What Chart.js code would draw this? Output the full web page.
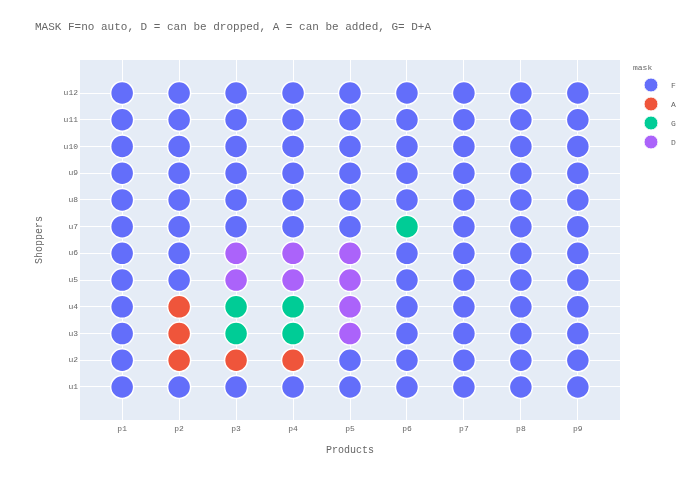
<!DOCTYPE html>
<html>
<head>
<meta charset="utf-8">
<script src="https://cdn.jsdelivr.net/npm/chart.js@4"></script>
<style>
  html, body { margin: 0; padding: 0; background: #fff; }
  #wrap { width: 700px; height: 500px; position: relative; }
</style>
</head>
<body>
<div id="wrap"><canvas id="c" width="700" height="500"></canvas></div>
<script>
const chartTitle = "MASK F=no auto, D = can be dropped, A = can be added, G= D+A";
const xTitle = "Products";
const yTitle = "Shoppers";
const legendTitle = "mask";
const products = ["p1","p2","p3","p4","p5","p6","p7","p8","p9"];
const shoppers = ["u1","u2","u3","u4","u5","u6","u7","u8","u9","u10","u11","u12"];
// mask per product, listed from u1 to u12
const maskP1 = ["F","F","F","F","F","F","F","F","F","F","F","F"];
const maskP2 = ["F","A","A","A","F","F","F","F","F","F","F","F"];
const maskP3 = ["F","A","G","G","D","D","F","F","F","F","F","F"];
const maskP4 = ["F","A","G","G","D","D","F","F","F","F","F","F"];
const maskP5 = ["F","F","D","D","D","D","F","F","F","F","F","F"];
const maskP6 = ["F","F","F","F","F","F","G","F","F","F","F","F"];
const maskP7 = ["F","F","F","F","F","F","F","F","F","F","F","F"];
const maskP8 = ["F","F","F","F","F","F","F","F","F","F","F","F"];
const maskP9 = ["F","F","F","F","F","F","F","F","F","F","F","F"];
const maskKinds = ["F","A","G","D"];
const maskColors = ["#636efa","#EF553B","#00cc96","#ab63fa"];

const masks = [maskP1,maskP2,maskP3,maskP4,maskP5,maskP6,maskP7,maskP8,maskP9];
const datasets = maskKinds.map((k, ki) => {
  const pts = [];
  masks.forEach((col, pi) => col.forEach((m, si) => { if (m === k) pts.push({x: pi, y: si}); }));
  return {
    label: k, data: pts,
    backgroundColor: maskColors[ki], borderColor: "#ffffff", borderWidth: 1.5,
    pointRadius: 11.5, pointHoverRadius: 11.5
  };
});

const FONT = "'Liberation Mono', 'DejaVu Sans Mono', monospace";
const TXT = "#666";

const decor = {
  id: "decor",
  beforeDraw(chart) {
    const {ctx, chartArea: a} = chart;
    ctx.save();
    ctx.fillStyle = "#ffffff";
    ctx.fillRect(0, 0, chart.width, chart.height);
    ctx.fillStyle = "#E5ECF6";
    ctx.fillRect(a.left, a.top, a.right - a.left, a.bottom - a.top);
    ctx.restore();
  },
  afterDraw(chart) {
    const {ctx, chartArea: a} = chart;
    ctx.save();
    ctx.fillStyle = TXT;
    ctx.font = "11px " + FONT;
    ctx.textAlign = "left"; ctx.textBaseline = "middle";
    ctx.fillText(chartTitle, 35, 27);
    ctx.font = "10px " + FONT;
    ctx.textAlign = "center";
    ctx.fillText(xTitle, (a.left + a.right) / 2, 450);
    ctx.save();
    ctx.translate(39, (a.top + a.bottom) / 2);
    ctx.rotate(-Math.PI / 2);
    ctx.fillText(yTitle, 0, 0);
    ctx.restore();
    // legend
    ctx.font = "8px " + FONT;
    ctx.textAlign = "left";
    ctx.fillText(legendTitle, 633, 68);
    chart.data.datasets.forEach((ds, i) => {
      const y = 85 + i * 19;
      ctx.beginPath();
      ctx.arc(651, y, 7, 0, Math.PI * 2);
      ctx.fillStyle = ds.backgroundColor;
      ctx.fill();
      ctx.lineWidth = 1; ctx.strokeStyle = "#fff"; ctx.stroke();
      ctx.fillStyle = TXT;
      ctx.fillText(ds.label, 671, y + 0.5);
    });
    ctx.restore();
  }
};

new Chart(document.getElementById("c"), {
  type: "scatter",
  data: { datasets },
  plugins: [decor],
  options: {
    responsive: false, animation: false, devicePixelRatio: 1,
    layout: { padding: { left: 0, right: 80, top: 60, bottom: 0 } },
    plugins: { legend: { display: false }, title: { display: false }, tooltip: { enabled: false } },
    scales: {
      x: {
        type: "linear", min: -0.74, max: products.length - 1 + 0.74,
        afterBuildTicks: s => { s.ticks = products.map((p, i) => ({ value: i })); },
        afterFit: s => { s.height = 80; },
        ticks: { callback: (v) => products[v] ?? "", color: TXT, font: { family: FONT, size: 8 }, padding: 4, maxRotation: 0 },
        grid: { color: "#ffffff", lineWidth: 1, drawTicks: false },
        border: { display: false }
      },
      y: {
        type: "linear", min: -1.235, max: shoppers.length - 1 + 1.235,
        afterBuildTicks: s => { s.ticks = shoppers.map((u, i) => ({ value: i })); },
        afterFit: s => { s.width = 80; },
        ticks: { callback: (v) => shoppers[v] ?? "", color: TXT, font: { family: FONT, size: 8 }, padding: 2 },
        grid: { color: "#ffffff", lineWidth: 1, drawTicks: false },
        border: { display: false }
      }
    }
  }
});
</script>
</body>
</html>
